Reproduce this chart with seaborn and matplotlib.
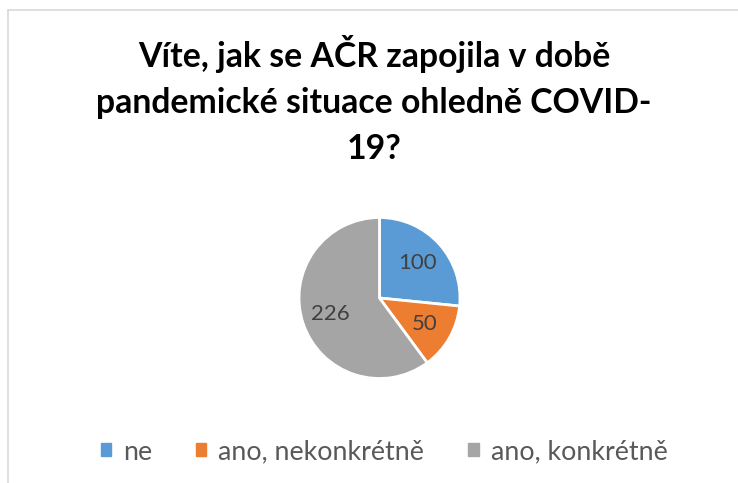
import numpy as np
import matplotlib.pyplot as plt
import seaborn as sns

# Data
labels = ['ne', 'ano, nekonkrétně', 'ano, konkrétně']
counts = [100, 50, 226]
colors = ['#5B9BD5', '#ED7D31', '#A5A5A5']
title = 'Víte, jak se AČR zapojila v době\npandemické situace ohledně COVID-\n19?'

sns.set_theme(style='white')
plt.rcParams['font.family'] = ['Lato', 'DejaVu Sans']

W, H = 738, 483
fig = plt.figure(figsize=(W / 100, H / 100), dpi=100)

# chart frame (light gray border on left and top)
fig.add_artist(plt.Line2D([8 / W, 8 / W], [0, 1 - 10 / H], color='#d9d9d9', lw=1.2))
fig.add_artist(plt.Line2D([8 / W, 1], [1 - 10 / H, 1 - 10 / H], color='#d9d9d9', lw=1.2))

fig.text(374 / W, 1 - 100 / H, title, ha='center', va='center', fontsize=24.3,
         fontweight='bold', color='black', linespacing=1.52)

# pie axes
cx, cy, r = 379.5, 298, 80.5
ax = fig.add_axes([(cx - r) / W, (H - cy - r) / H, 2 * r / W, 2 * r / H])
wedges, _, autotexts = ax.pie(counts, colors=colors, startangle=90, counterclock=False,
                              autopct=lambda p: f'{p * sum(counts) / 100:.0f}',
                              pctdistance=0.64,
                              wedgeprops=dict(edgecolor='white', linewidth=2),
                              textprops=dict(fontsize=16, color='#404040'))
ax.set_xlim(-1, 1)
ax.set_ylim(-1, 1)
ax.set_aspect('equal')
ax.axis('off')

handles = [plt.Rectangle((0, 0), 1, 1, color=c) for c in colors]
fig.legend(handles, labels, loc='center', bbox_to_anchor=(384 / W, 1 - 452 / H), ncol=3,
           frameon=False, fontsize=19.3, handlelength=0.38, handleheight=0.38,
           handletextpad=0.45, columnspacing=1.65, labelcolor='#595959')

fig.savefig('out.png', dpi=100)
